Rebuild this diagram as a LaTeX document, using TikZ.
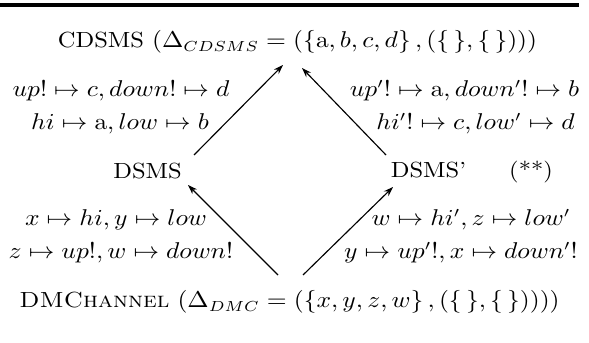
\documentclass[tikz,border=0pt]{standalone}
\usepackage{amssymb}
\usepackage{amsmath}
\usepackage{tikz}
\usetikzlibrary{arrows.meta, positioning, calc}
\tikzset{
  %% ---- boxes ----
  obj/.style   = {inner sep=0pt, anchor=base, xscale=1.12,
                  font=\fontsize{10.5}{12.5}\selectfont},
  lbl/.style   = {inner sep=0pt, anchor=base, xscale=1.12,
                  font=\fontsize{10.5}{12.5}\selectfont},
  %% ---- arrows ----
  arr/.style   = {-{Stealth[length=4.6pt, width=3.2pt]}, line width=0.55pt},
  rule/.style  = {line width=2pt},
}

\begin{document}
\begin{tikzpicture}[x=0.48pt, y=-0.48pt]
\useasboundingbox (0,0) rectangle (589,343);
\draw[rule] (0,5) -- (579,5);
%% objects
\node[obj] (cdsms) at (297.5,48)
  {CDSMS $(\Delta_{CDSMS} = (\{\mathrm{a}, b, c, d\}\,, (\{\,\}, \{\,\})))$};
\node[obj] (dsms)  at (147.5,179) {DSMS};
\node[obj] (dsmsp) at (428.5,178) {DSMS'};
\node[obj] (stars) at (531,178) {(**)};
\node[obj] (dmc)   at (289.5,308)
  {\textsc{DMChannel} $(\Delta_{DMC} = (\{x, y, z, w\}\,, (\{\,\}, \{\,\}))))$};
%% labels
\node[lbl] (ul1) at (121,97)    {$up! \mapsto c, down! \mapsto d$};
\node[lbl] (ul2) at (120,130)   {$hi \mapsto \mathrm{a}, low \mapsto b$};
\node[lbl] (ur1) at (464.5,97)  {$up'! \mapsto \mathrm{a}, down'! \mapsto b$};
\node[lbl] (ur2) at (475.5,130) {$hi'! \mapsto c, low' \mapsto d$};
\node[lbl] (ll1) at (116,226)   {$x \mapsto hi, y \mapsto low$};
\node[lbl] (ll2) at (121,259)   {$z \mapsto up!, w \mapsto down!$};
\node[lbl] (lr1) at (471,226)   {$w \mapsto hi', z \mapsto low'$};
\node[lbl] (lr2) at (461,259)   {$y \mapsto up'!, x \mapsto down'!$};
%% arrows
\draw[arr] ($(dsms.base)+(46.5,-24)$)  -- ($(cdsms.base)+(-14.5,17)$);
\draw[arr] ($(dsmsp.base)+(-42.5,-23)$) -- ($(cdsms.base)+(4.5,20)$);
\draw[arr] ($(dmc.base)+(-11.5,-33)$)  -- ($(dsms.base)+(40.5,6)$);
\draw[arr] ($(dmc.base)+(13.5,-33)$)   -- ($(dsmsp.base)+(-35.5,9)$);
\end{tikzpicture}
\end{document}
